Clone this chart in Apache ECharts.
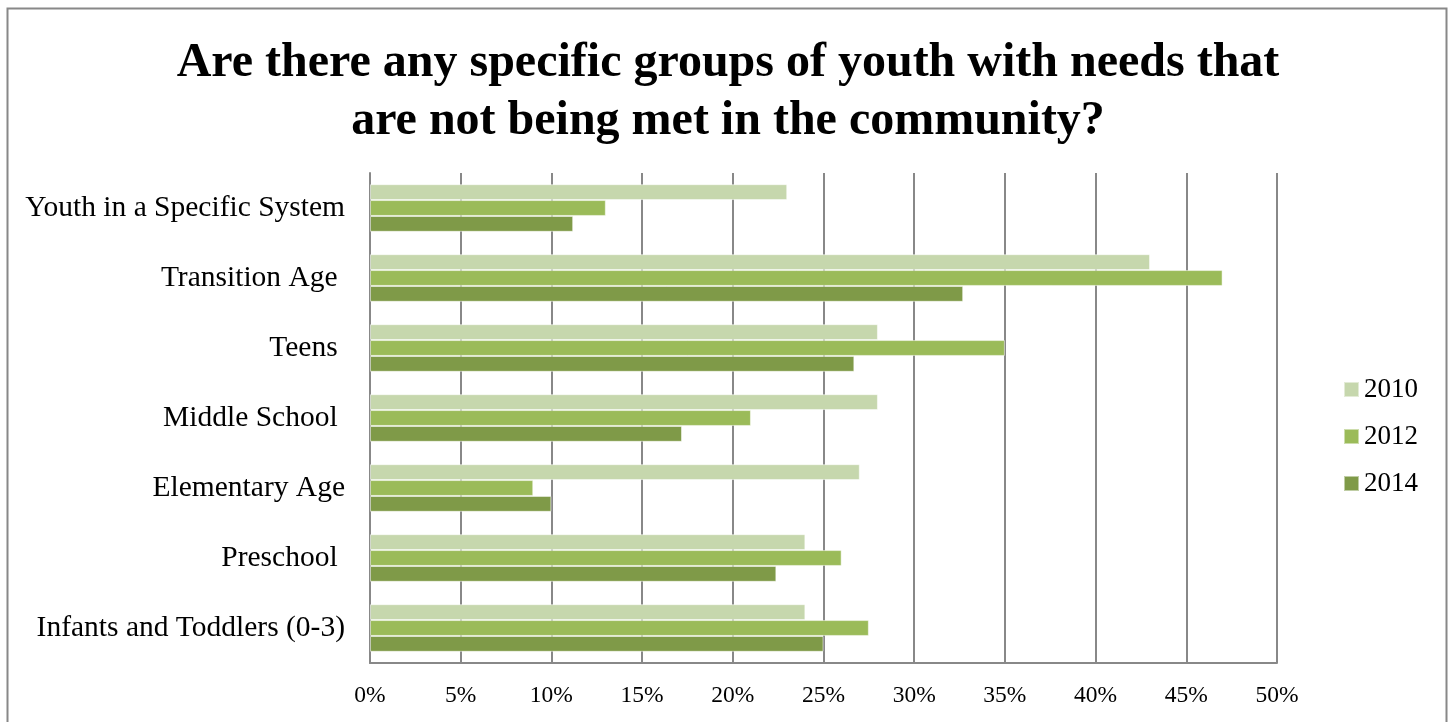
<!DOCTYPE html>
<html>
<head>
<meta charset="utf-8">
<script src="https://cdn.jsdelivr.net/npm/echarts@6/dist/echarts.min.js"></script>
<style>
html,body{margin:0;padding:0;background:#fff;}
#chart{width:1450px;height:722px;}
</style>
</head>
<body>
<div id="chart"></div>
<script>
const titleText = 'Are there any specific groups of youth with needs that\nare not being met in the community?';
const categories = ['Youth in a Specific System', 'Transition Age ', 'Teens ', 'Middle School ', 'Elementary Age', 'Preschool ', 'Infants and Toddlers (0-3)'];
const seriesNames = ['2010', '2012', '2014'];
const values2010 = [23, 43, 28, 28, 27, 24, 24];
const values2012 = [13, 47, 35, 21, 9, 26, 27.5];
const values2014 = [11.2, 32.7, 26.7, 17.2, 10, 22.4, 25];
const colors = ['#C6D7AD', '#9BBB59', '#7F9A48'];

const chart = echarts.init(document.getElementById('chart'));
const font = '"Liberation Serif", "Times New Roman", serif';
const allValues = [values2010, values2012, values2014];

chart.setOption({
  animation: false,
  textStyle: { fontFamily: font },
  graphic: [{
    type: 'rect',
    shape: { x: 7.5, y: 8.5, width: 1439, height: 730 },
    style: { fill: 'none', stroke: '#888888', lineWidth: 2 },
    silent: true
  }],
  title: {
    text: titleText,
    left: 723,
    textAlign: 'center',
    top: 30,
    textStyle: { fontFamily: font, fontSize: 48, fontWeight: 'bold', color: '#000', lineHeight: 58 }
  },
  legend: {
    orient: 'vertical',
    left: 1338,
    top: 371,
    itemWidth: 15,
    itemHeight: 15,
    itemGap: 20,
    icon: 'rect',
    data: seriesNames,
    textStyle: { fontFamily: font, fontSize: 27, color: '#000' }
  },
  grid: { left: 370, right: 173, top: 173, bottom: 59, containLabel: false },
  xAxis: {
    type: 'value',
    min: 0,
    max: 50,
    interval: 5,
    axisLabel: { formatter: '{value}%', fontFamily: font, fontSize: 23.5, color: '#000', margin: 21 },
    axisLine: { show: true, lineStyle: { color: '#888888', width: 2 } },
    axisTick: { show: false },
    splitLine: { show: true, lineStyle: { color: '#888888', width: 2 } }
  },
  yAxis: {
    type: 'category',
    inverse: true,
    data: categories,
    axisLabel: { fontFamily: font, fontSize: 29.5, color: '#000', margin: 25 },
    axisLine: { show: true, lineStyle: { color: '#888888', width: 2 } },
    axisTick: { show: false },
    splitLine: { show: false }
  },
  series: seriesNames.map((name, i) => ({
    name: name,
    type: 'bar',
    data: allValues[i],
    barGap: '0%',
    barCategoryGap: '32%',
    itemStyle: { color: colors[i], borderColor: 'rgba(255,255,255,0.5)', borderWidth: 1 }
  }))
});
</script>
</body>
</html>
